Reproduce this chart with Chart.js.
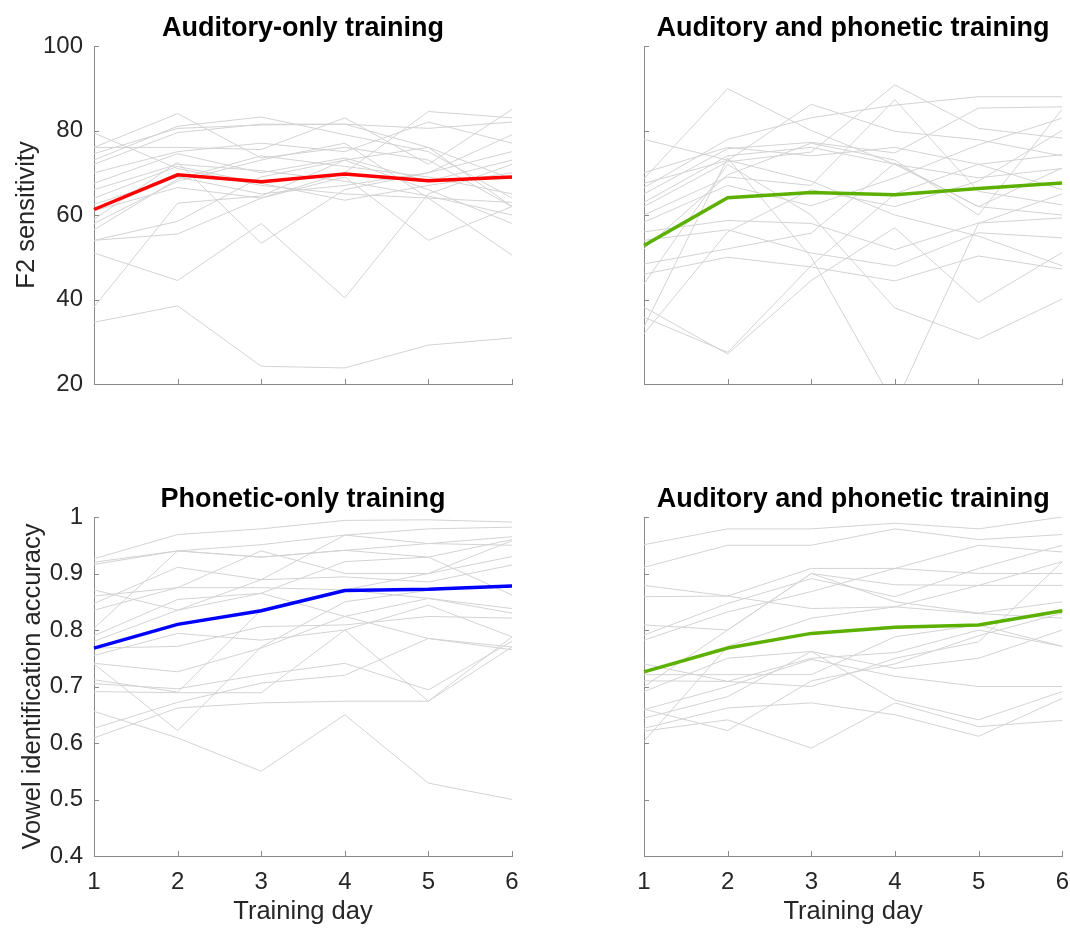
<!DOCTYPE html>
<html>
<head>
<meta charset="utf-8">
<script src="https://cdn.jsdelivr.net/npm/chart.js@4.4.1/dist/chart.umd.min.js"></script>
<style>
  html, body { margin: 0; background: #fff; width: 1070px; height: 930px; overflow: hidden; }
  body { position: relative; }
  canvas { position: absolute; }
</style>
</head>
<body>
<canvas id="panelTL" width="535" height="470" style="left:0;top:0"></canvas>
<canvas id="panelTR" width="535" height="470" style="left:535px;top:0"></canvas>
<canvas id="panelBL" width="535" height="460" style="left:0;top:470px"></canvas>
<canvas id="panelBR" width="546" height="460" style="left:535px;top:470px"></canvas>
<script>
// training days on the x axis
const days = [1, 2, 3, 4, 5, 6];

// group means
const audOnlyMean = [61.3, 69.5, 67.9, 69.7, 68.1, 69.0];
const audPhonF2Mean = [52.8, 64.1, 65.3, 64.8, 66.3, 67.6];
const phonOnlyMean = [0.768, 0.81, 0.834, 0.87, 0.872, 0.878];
const audPhonVowelMean = [0.726, 0.768, 0.794, 0.805, 0.809, 0.834];

// individual listeners, F2 sensitivity, auditory-only group
const audOnlySubjects = [
  [34.6, 38.5, 24.2, 23.8, 29.2, 30.9],
  [38.2, 62.8, 64.5, 73, 76, 62],
  [51, 44.5, 58, 40.4, 65, 72],
  [54, 55.5, 64, 70, 84.5, 83],
  [54, 58.5, 69, 73, 66, 58],
  [59, 72.5, 53.3, 66, 70, 75],
  [79.4, 71, 67, 65, 64, 50.5],
  [76, 84, 73.5, 76, 73, 62],
  [76, 76, 75.5, 83, 72, 85],
  [74.5, 80.5, 81.3, 81.5, 76, 68.5],
  [73, 81, 83.2, 79, 75, 64],
  [72, 79.5, 81.5, 81.5, 80.5, 82],
  [70, 75, 77, 75, 82, 77],
  [67.5, 74.5, 70, 73.5, 68, 73],
  [66, 72, 70.5, 68, 64.5, 60],
  [64, 71.5, 67.5, 63.5, 67, 70],
  [62.5, 69, 65, 67, 70, 79],
  [61, 66.5, 64, 69, 54, 62],
  [58, 68, 73, 77, 64, 63],
  [56.5, 68.5, 74, 71.5, 69, 65]
];

// individual listeners, F2 sensitivity, auditory + phonetic group
const audPhonF2Subjects = [
  [77.9, 73, 68, 60, 55, 48],
  [68.6, 89.9, 80, 72, 62, 60],
  [67.5, 72.9, 86.2, 79.8, 77.8, 74],
  [66.5, 77.9, 83, 86, 88, 88],
  [65, 75.7, 77.2, 74.7, 85.3, 85.6],
  [63, 74, 76, 72, 68.8, 71],
  [62, 72.6, 74.9, 90.8, 80.5, 78.2],
  [60, 69, 67, 87.3, 65.6, 62.4],
  [58.3, 67, 62.2, 68.8, 76.6, 82.9],
  [56, 58.7, 58, 51.8, 58.1, 59.3],
  [54, 56.5, 51, 47.9, 55.8, 54.6],
  [48.4, 52, 55.7, 72.3, 62, 71.1],
  [46, 50, 47.7, 44.4, 50.3, 47.2],
  [43.7, 72, 60, 38, 30.6, 40.1],
  [38.2, 27.1, 44.5, 57, 39.3, 51.1],
  [35.8, 27.5, 48, 65, 72, 74.3],
  [33.5, 73.5, 50, 15, 58, 65],
  [31.9, 56, 66, 62, 68, 80],
  [52, 69.5, 77, 73, 60, 85],
  [70, 76, 74, 76, 72, 66]
];

// individual listeners, vowel accuracy, phonetic-only group
const phonOnlySubjects = [
  [0.926, 0.969, 0.979, 0.994, 0.995, 0.991],
  [0.92, 0.94, 0.951, 0.968, 0.979, 0.982],
  [0.916, 0.94, 0.929, 0.941, 0.953, 0.965],
  [0.871, 0.835, 0.865, 0.921, 0.929, 0.96],
  [0.847, 0.911, 0.889, 0.894, 0.885, 0.915],
  [0.835, 0.875, 0.875, 0.871, 0.9, 0.958],
  [0.803, 0.94, 0.929, 0.941, 0.929, 0.862],
  [0.79, 0.854, 0.865, 0.824, 0.856, 0.838],
  [0.78, 0.835, 0.889, 0.968, 0.953, 0.95],
  [0.768, 0.771, 0.806, 0.809, 0.824, 0.821],
  [0.755, 0.794, 0.782, 0.8, 0.844, 0.788],
  [0.741, 0.726, 0.768, 0.824, 0.785, 0.765],
  [0.712, 0.69, 0.835, 0.871, 0.856, 0.83],
  [0.705, 0.696, 0.721, 0.741, 0.694, 0.78],
  [0.691, 0.689, 0.689, 0.8, 0.674, 0.788],
  [0.656, 0.609, 0.55, 0.65, 0.529, 0.5],
  [0.626, 0.672, 0.706, 0.72, 0.785, 0.77],
  [0.609, 0.662, 0.671, 0.674, 0.674, 0.77],
  [0.86, 0.875, 0.94, 0.9, 0.9, 0.93],
  [0.74, 0.622, 0.77, 0.85, 0.87, 0.88]
];

// individual listeners, vowel accuracy, auditory + phonetic group
const audPhonVowelSubjects = [
  [0.951, 0.979, 0.979, 0.989, 0.979, 1.0],
  [0.911, 0.95, 0.95, 0.979, 0.96, 0.969],
  [0.879, 0.86, 0.909, 0.909, 0.9, 0.9],
  [0.859, 0.86, 0.838, 0.841, 0.829, 0.821],
  [0.809, 0.8, 0.9, 0.88, 0.879, 0.879],
  [0.791, 0.847, 0.891, 0.859, 0.909, 0.95],
  [0.782, 0.832, 0.868, 0.909, 0.95, 0.938],
  [0.721, 0.721, 0.721, 0.788, 0.809, 0.771],
  [0.71, 0.709, 0.7, 0.75, 0.779, 0.921],
  [0.691, 0.75, 0.762, 0.732, 0.75, 0.8],
  [0.659, 0.7, 0.748, 0.718, 0.7, 0.7],
  [0.644, 0.682, 0.762, 0.676, 0.641, 0.691],
  [0.626, 0.662, 0.671, 0.65, 0.612, 0.679],
  [0.621, 0.641, 0.591, 0.671, 0.629, 0.64],
  [0.603, 0.771, 0.821, 0.841, 0.879, 0.921],
  [0.66, 0.622, 0.71, 0.74, 0.79, 0.83],
  [0.74, 0.709, 0.75, 0.76, 0.8, 0.771],
  [0.7, 0.8, 0.9, 0.85, 0.83, 0.85]
];

const fontFamily = "Helvetica, Arial, 'Liberation Sans', sans-serif";
const textGrey = '#262626';
const axisGrey = '#8a8a8a';
const subjectGrey = '#d3d3d3';

// small inward tick marks, like the matlab axes
const inwardTicks = {
  id: 'inwardTicks',
  afterDatasetsDraw(chart) {
    const { ctx, chartArea, scales } = chart;
    ctx.save();
    ctx.strokeStyle = axisGrey;
    ctx.lineWidth = 1;
    ctx.beginPath();
    scales.x.ticks.forEach((t, i) => {
      const px = Math.round(scales.x.getPixelForTick(i)) + 0.5;
      ctx.moveTo(px, chartArea.bottom);
      ctx.lineTo(px, chartArea.bottom - 5);
    });
    scales.y.ticks.forEach(t => {
      const py = Math.round(scales.y.getPixelForValue(t.value)) + 0.5;
      ctx.moveTo(chartArea.left, py);
      ctx.lineTo(chartArea.left + 5, py);
    });
    ctx.stroke();
    ctx.restore();
  }
};

function buildPanel(id, p) {
  const datasets = [{
    data: p.mean,
    borderColor: p.color,
    borderWidth: 3.5,
    pointRadius: 0,
    order: 0
  }];
  p.subjects.forEach(s => {
    datasets.push({
      data: s,
      borderColor: subjectGrey,
      borderWidth: 1,
      pointRadius: 0,
      order: 1
    });
  });

  return new Chart(document.getElementById(id), {
    type: 'line',
    data: { labels: days, datasets: datasets },
    options: {
      responsive: false,
      animation: false,
      events: [],
      layout: { padding: { left: 0, right: p.padRight, top: 0, bottom: 0 } },
      plugins: {
        legend: { display: false },
        tooltip: { enabled: false },
        title: {
          display: true,
          text: p.title,
          fullSize: false,
          color: '#000',
          font: { family: fontFamily, size: 27, weight: 'bold' },
          padding: p.titlePad
        }
      },
      scales: {
        x: {
          offset: false,
          grid: { drawOnChartArea: false, drawTicks: false },
          border: { display: true, color: axisGrey, width: 1 },
          ticks: { display: p.showX, color: textGrey, padding: 12, maxRotation: 0,
                   font: { family: fontFamily, size: 24 } },
          title: { display: p.showX, text: 'Training day', color: textGrey,
                   font: { family: fontFamily, size: 25.5 }, padding: { top: 0, bottom: 3 } },
          afterFit: s => { s.height = p.xHeight; }
        },
        y: {
          min: p.yMin,
          max: p.yMax,
          grid: { drawOnChartArea: false, drawTicks: false },
          border: { display: true, color: axisGrey, width: 1 },
          ticks: { display: p.showY, stepSize: p.yStep, color: textGrey, padding: 11,
                   font: { family: fontFamily, size: 24 },
                   callback: v => String(Number(v.toFixed(2))) },
          title: { display: !!p.yTitle, text: p.yTitle || '', color: textGrey,
                   font: { family: fontFamily, size: 25.5 }, padding: { top: p.yTitlePad, bottom: 0 } },
          afterFit: s => { s.width = p.yWidth; }
        }
      }
    },
    plugins: [inwardTicks]
  });
}

buildPanel('panelTL', {
  title: 'Auditory-only training', mean: audOnlyMean, subjects: audOnlySubjects, color: '#ff0000',
  yMin: 20, yMax: 100, yStep: 20, showY: true, showX: false, yTitle: 'F2 sensitivity', yTitlePad: 12,
  yWidth: 94, xHeight: 86, padRight: 23, titlePad: { top: 12, bottom: 1.6 }
});
buildPanel('panelTR', {
  title: 'Auditory and phonetic training', mean: audPhonF2Mean, subjects: audPhonF2Subjects, color: '#5cb000',
  yMin: 20, yMax: 100, yStep: 20, showY: false, showX: false,
  yWidth: 109, xHeight: 86, padRight: 8, titlePad: { top: 12, bottom: 1.6 }
});
buildPanel('panelBL', {
  title: 'Phonetic-only training', mean: phonOnlyMean, subjects: phonOnlySubjects, color: '#0000ff',
  yMin: 0.4, yMax: 1, yStep: 0.1, showY: true, showX: true, yTitle: 'Vowel identification accuracy', yTitlePad: 18,
  yWidth: 94, xHeight: 74, padRight: 23, titlePad: { top: 13.8, bottom: 0.8 }
});
buildPanel('panelBR', {
  title: 'Auditory and phonetic training', mean: audPhonVowelMean, subjects: audPhonVowelSubjects, color: '#5cb000',
  yMin: 0.4, yMax: 1, yStep: 0.1, showY: false, showX: true,
  yWidth: 109, xHeight: 74, padRight: 8, titlePad: { top: 13.8, bottom: 0.8 }
});
</script>
</body>
</html>
